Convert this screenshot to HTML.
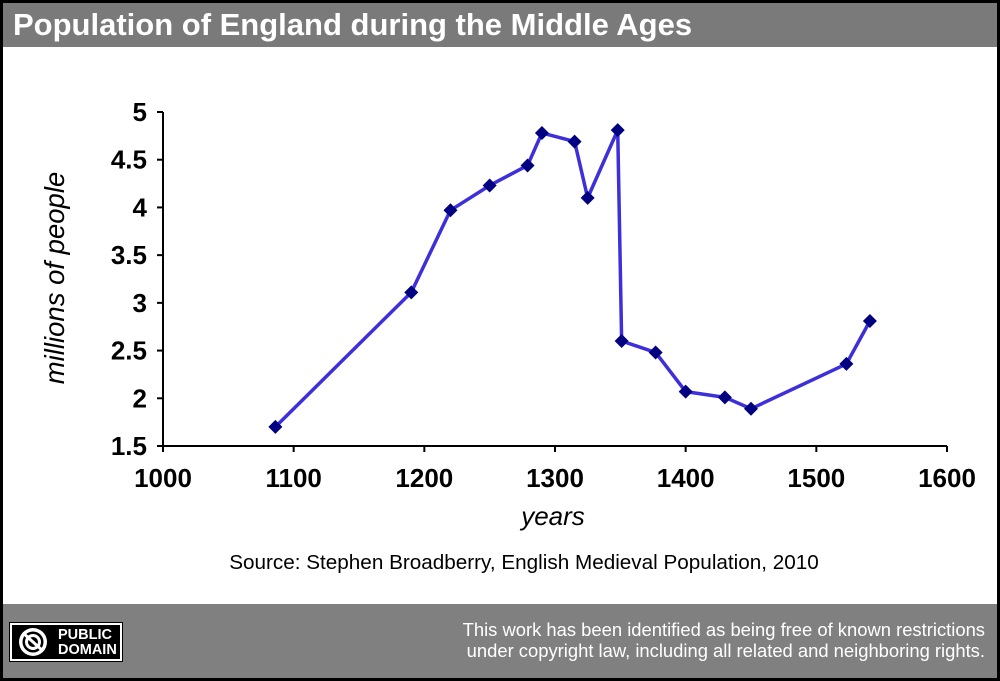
<!DOCTYPE html>
<html><head><meta charset="utf-8"><style>
html,body{margin:0;padding:0;background:#000;}
body{width:1000px;height:681px;position:relative;overflow:hidden;font-family:"Liberation Sans",sans-serif;}
#frame{position:absolute;left:3px;top:3px;width:994px;height:675px;background:#fff;}
#hdr{position:absolute;left:0;top:0;width:994px;height:44px;background:#7a7a7a;color:#fff;font-weight:bold;font-size:31px;line-height:44px;padding-left:10px;box-sizing:border-box;}
#ftr{position:absolute;left:0;top:601px;width:994px;height:74px;background:#808080;}
#pd{position:absolute;left:6px;top:18px;width:114px;height:40px;background:#fff;box-sizing:border-box;border:1px solid #000;}
#pdin{position:absolute;left:2px;top:2px;right:2px;bottom:2px;background:#000;}
#pdt{position:absolute;left:46px;top:3px;color:#fff;font-weight:bold;font-size:14.5px;line-height:15px;}
#lic{position:absolute;right:12px;top:15px;color:#fff;font-size:18.4px;line-height:21px;text-align:right;white-space:nowrap;}
svg{position:absolute;left:0;top:0;}
</style></head><body>
<div id="frame">
<div id="hdr">Population of England during the Middle Ages</div>
<div id="ftr">
<div id="pd"><div id="pdin">
<svg width="42" height="34" style="left:1px;top:0px"><circle cx="20" cy="17" r="14" fill="#fff"/><circle cx="20" cy="17" r="10.5" fill="#000"/><circle cx="20" cy="17" r="6.5" fill="none" stroke="#fff" stroke-width="3"/><line x1="10" y1="8" x2="30" y2="26" stroke="#fff" stroke-width="3"/></svg>
<div id="pdt">PUBLIC<br>DOMAIN</div></div></div>
<div id="lic">This work has been identified as being free of known restrictions<br>under copyright law, including all related and neighboring rights.</div>
</div>
</div>
<svg id="chart" width="1000" height="681"></svg>
<script>
const years=[1086,1190,1220,1250,1279,1290,1315,1325,1348,1351,1377,1400,1430,1450,1523,1541];
const population=[1.70,3.11,3.97,4.23,4.44,4.78,4.69,4.10,4.81,2.60,2.48,2.07,2.01,1.89,2.36,2.81];
const xTicks=[1000,1100,1200,1300,1400,1500,1600];
const yTicks=[1.5,2,2.5,3,3.5,4,4.5,5];
const yTickLabels=["1.5","2","2.5","3","3.5","4","4.5","5"];
const NS="http://www.w3.org/2000/svg";
const svg=document.getElementById('chart');
const X0=163,X1=947,Y0=446,Y1=112;
function xs(v){return X0+(v-1000)/600*(X1-X0);}
function ys(v){return Y0-(v-1.5)/3.5*(Y0-Y1);}
function mk(t,a){const e=document.createElementNS(NS,t);for(const k in a)e.setAttribute(k,a[k]);svg.appendChild(e);return e;}
let e;
e=mk('line',{x1:X0,y1:Y0,x2:X1,y2:Y0,stroke:'#000','stroke-width':2});


e=mk('line',{x1:X0,y1:Y0,x2:X0,y2:Y1,stroke:'#000','stroke-width':2});


xTicks.forEach(v=>{
 e=mk('line',{x1:xs(v),y1:Y0,x2:xs(v),y2:Y0+6,stroke:'#000','stroke-width':2});
 
 
 e=mk('text',{x:xs(v),y:Y0+41,'text-anchor':'middle','font-size':26,'font-weight':'bold','font-family':'Liberation Sans'});
 e.textContent=v;
 
 
});
yTicks.forEach((v,i)=>{
 e=mk('line',{x1:X0-6,y1:ys(v),x2:X0,y2:ys(v),stroke:'#000','stroke-width':2});
 
 
 e=mk('text',{x:X0-16,y:ys(v)+9,'text-anchor':'end','font-size':26,'font-weight':'bold','font-family':'Liberation Sans'});
 e.textContent=yTickLabels[i];
 
 
});
e=mk('polyline',{points:years.map((y,i)=>xs(y)+','+ys(population[i])).join(' '),fill:'none',stroke:'#3d2fd9','stroke-width':3.5,'stroke-linejoin':'round'});


years.forEach((y,i)=>{
 const cx=xs(y),cy=ys(population[i]);
 e=mk('polygon',{points:`${cx},${cy-7} ${cx+7},${cy} ${cx},${cy+7} ${cx-7},${cy}`,fill:'#000080'});
 
 
});
e=mk('text',{x:553,y:525,'text-anchor':'middle','font-size':26,'font-style':'italic','font-family':'Liberation Sans'});
e.textContent='years';


e=mk('text',{x:0,y:0,'text-anchor':'middle','font-size':27.5,'font-style':'italic','font-family':'Liberation Sans',transform:'translate(64,278) rotate(-90)'});
e.textContent='millions of people';


e=mk('text',{x:524,y:569,'text-anchor':'middle','font-size':20.7,'font-family':'Liberation Sans'});
e.textContent='Source: Stephen Broadberry, English Medieval Population, 2010';


</script>
</body></html>
